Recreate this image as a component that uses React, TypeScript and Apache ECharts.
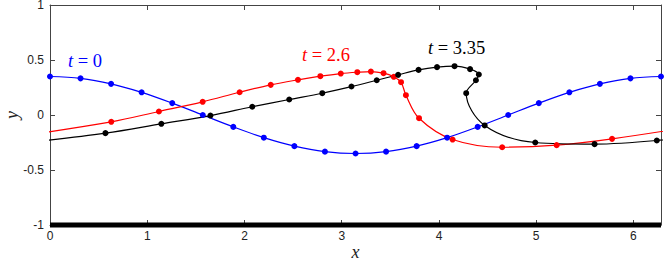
import React, { useEffect, useRef } from "react";
import * as echarts from "echarts";

const TWO_PI = 6.283185;

// t = 0 (blue)
const blueX = [0, 0.314, 0.628, 0.942, 1.257, 1.571, 1.885, 2.199, 2.513, 2.827, 3.142, 3.456, 3.770, 4.084, 4.398, 4.712, 5.027, 5.341, 5.655, 5.969, 6.283];
const blueY = [0.35, 0.333, 0.283, 0.206, 0.108, 0, -0.108, -0.206, -0.283, -0.333, -0.35, -0.333, -0.283, -0.206, -0.108, 0, 0.108, 0.206, 0.283, 0.333, 0.35];

// t = 2.6 (red)
const redX = [-0.503, 0.63, 1.12, 1.57, 1.95, 2.27, 2.55, 2.78, 2.99, 3.16, 3.30, 3.43, 3.535, 3.61, 3.66, 3.795, 4.14, 4.65, 5.21, 5.78, 6.913];
const redY = [-0.217, -0.062, 0.032, 0.12, 0.207, 0.274, 0.32, 0.353, 0.377, 0.389, 0.395, 0.38, 0.347, 0.298, 0.18, -0.029, -0.223, -0.293, -0.274, -0.217, -0.062];

// t = 3.35 (black)
const blackX = [-0.043, 0.57, 1.145, 1.65, 2.08, 2.46, 2.80, 3.10, 3.36, 3.58, 3.79, 3.98, 4.16, 4.32, 4.41, 4.38, 4.28, 4.47, 4.99, 5.60, 6.24, 6.853];
const blackY = [-0.232, -0.165, -0.08, -0.005, 0.075, 0.141, 0.198, 0.259, 0.316, 0.365, 0.41, 0.435, 0.444, 0.417, 0.368, 0.316, 0.198, -0.095, -0.25, -0.265, -0.232, -0.165];

const xTicks = [0, 1, 2, 3, 4, 5, 6];
const yTicks = [-1, -0.5, 0, 0.5, 1];
const wallY = [-1, -1];
const wallX = [0, TWO_PI];

const zip = (xs: number[], ys: number[]) => xs.map((x, i) => [x, ys[i]]);

export default function App() {
  const ref = useRef<HTMLDivElement>(null);
  useEffect(() => {
    if (!ref.current) return;
    const chart = echarts.init(ref.current, null, { renderer: "svg" });
    const axisColor = "#444";
    const labelFont = { fontFamily: "Liberation Sans", fontSize: 12, color: "#222", lineHeight: 10 };
    const serif = "Liberation Serif";
    const fs = 18.5;
    const lineSeries = (name: string, color: string, data: number[][]) => ({
      name,
      type: "line",
      data,
      smooth: 0.35,
      symbol: "circle",
      symbolSize: 6,
      showAllSymbol: true,
      lineStyle: { color, width: 1.2 },
      itemStyle: { color },
      clip: true,
      z: 3,
    });
    const label = (txt: string, x: number, y: number, color: string) => ({
      type: "text",
      x,
      y,
      style: {
        text: `{i|t}{n| = ${txt}}`,
        fill: color,
        fontFamily: serif,
        fontSize: fs,
        align: "left",
        verticalAlign: "middle",
        rich: {
          i: { fontStyle: "italic", fontFamily: serif, fontSize: fs, fill: color },
          n: { fontFamily: serif, fontSize: fs, fill: color },
        },
      },
    });
    const axisLine = { show: true, onZero: false, lineStyle: { color: axisColor, width: 1 } };
    const axisTick = { show: true, inside: true, length: 5, lineStyle: { color: axisColor } };
    chart.setOption({
      animation: false,
      grid: { left: 50, right: 3, top: 5, bottom: 39, containLabel: false, outerBoundsMode: "none" },
      xAxis: [
        {
          type: "value",
          min: 0,
          max: TWO_PI,
          interval: 1,
          position: "bottom",
          axisLine,
          axisTick,
          axisLabel: { ...labelFont, margin: 6, showMaxLabel: false, formatter: (v: number) => (xTicks.includes(v) ? String(v) : "") },
          splitLine: { show: false },
          name: "x",
          nameLocation: "middle",
          nameGap: 20,
          nameMoveOverlap: false,
          nameTextStyle: { fontFamily: serif, fontStyle: "italic", fontSize: 18, color: "#222", lineHeight: 14 },
        },
        {
          type: "value",
          min: 0,
          max: TWO_PI,
          interval: 1,
          position: "top",
          axisLine,
          axisTick,
          axisLabel: { show: false },
          splitLine: { show: false },
        },
      ],
      yAxis: [
        {
          type: "value",
          min: -1,
          max: 1,
          interval: 0.5,
          position: "left",
          axisLine,
          axisTick,
          axisLabel: { ...labelFont, margin: 6, formatter: (v: number) => (yTicks.includes(v) ? String(v) : "") },
          splitLine: { show: false },
          name: "y",
          nameLocation: "middle",
          nameGap: 31,
          nameMoveOverlap: false,
          nameRotate: 90,
          nameTextStyle: { fontFamily: serif, fontStyle: "italic", fontSize: 18, color: "#222", lineHeight: 14 },
        },
        {
          type: "value",
          min: -1,
          max: 1,
          interval: 0.5,
          position: "right",
          axisLine,
          axisTick,
          axisLabel: { show: false },
          splitLine: { show: false },
        },
      ],
      series: [
        {
          name: "wall",
          type: "line",
          data: zip(wallX, wallY),
          symbol: "none",
          lineStyle: { color: "#000", width: 5 },
          clip: false,
          z: 5,
        },
        lineSeries("t=0", "#0000ff", zip(blueX, blueY)),
        lineSeries("t=2.6", "#ff0000", zip(redX, redY)),
        lineSeries("t=3.35", "#000000", zip(blackX, blackY)),
      ],
      graphic: [
        label("0", 68, 61, "#0000ff"),
        label("2.6", 302, 55, "#ff0000"),
        label("3.35", 428, 48, "#000000"),
      ],
    });
    return () => chart.dispose();
  }, []);
  return <div ref={ref} style={{ width: 664, height: 264, position: "absolute", left: 0, top: 0 }} />;
}
